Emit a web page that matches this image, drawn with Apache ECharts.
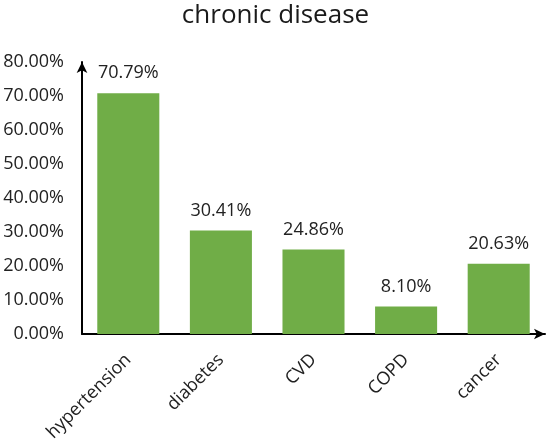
<!DOCTYPE html>
<html>
<head>
<meta charset="utf-8">
<script src="https://cdn.jsdelivr.net/npm/echarts@6/dist/echarts.min.js"></script>
<style>html,body{margin:0;padding:0;background:#fff;}#c{width:551px;height:444px;}</style>
</head>
<body>
<div id="c"></div>
<script>
const categories = ['hypertension', 'diabetes', 'CVD', 'COPD', 'cancer'];
const values = [70.79, 30.41, 24.86, 8.10, 20.63];
const yTicks = [0, 10, 20, 30, 40, 50, 60, 70, 80];

const font = 'Open Sans';
const chart = echarts.init(document.getElementById('c'));
chart.setOption({
  animation: false,
  backgroundColor: '#fff',
  title: {
    text: 'chronic disease',
    left: 'center',
    top: -2,
    textStyle: { fontFamily: font, fontSize: 26, fontWeight: 'normal', color: '#1a1a1a' }
  },
  grid: { left: 82, right: 6, top: 62, bottom: 110 },
  xAxis: {
    type: 'category',
    data: categories,
    axisLine: { lineStyle: { color: '#000', width: 2 }, symbol: ['none', 'arrow'], symbolSize: [8, 11] },
    axisTick: { show: false },
    axisLabel: { rotate: 45, margin: 23, fontFamily: font, fontSize: 18, color: '#222' }
  },
  yAxis: {
    type: 'value',
    min: yTicks[0],
    max: yTicks[yTicks.length - 1],
    interval: 10,
    axisLine: { show: true, lineStyle: { color: '#000', width: 2 }, symbol: ['none', 'arrow'], symbolSize: [8, 11] },
    axisTick: { show: false },
    splitLine: { show: false },
    axisLabel: { margin: 18, fontFamily: font, fontSize: 18, color: '#222', formatter: v => v.toFixed(2) + '%' }
  },
  series: [{
    type: 'bar',
    data: values,
    barCategoryGap: '33%',
    itemStyle: { color: '#70AD47' },
    label: {
      show: true, position: 'top', distance: 11,
      fontFamily: font, fontSize: 18, color: '#222',
      formatter: p => p.value.toFixed(2) + '%'
    }
  }]
});
</script>
</body>
</html>
